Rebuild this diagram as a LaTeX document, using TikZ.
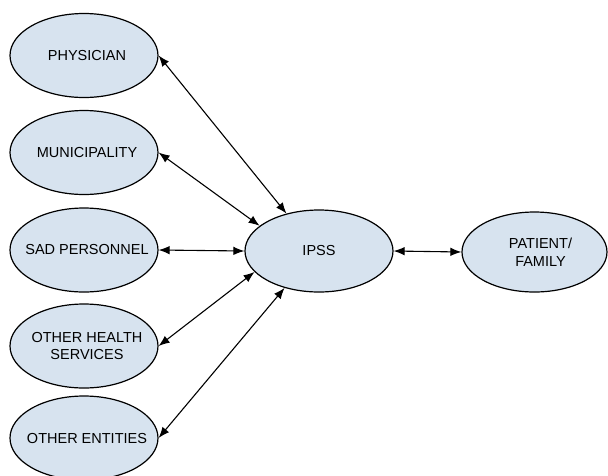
\documentclass[tikz,border=0pt]{standalone}
\usepackage{fontspec}
\setmainfont{Liberation Sans}
\usetikzlibrary{shapes.geometric,arrows.meta}
\definecolor{nodefill}{HTML}{D7E3EF}
\tikzset{
  ent/.style={ellipse, draw=black, line width=1.2pt, fill=nodefill, minimum width=148pt, minimum height=84pt, inner sep=0pt},
  txt/.style={align=center, inner sep=0pt, font=\fontsize{14.5}{17.5}\selectfont},
  ltxt/.style={txt, xshift=3pt},
  link/.style={line width=1.1pt, {Latex[length=11pt,width=8.5pt]}-{Latex[length=11pt,width=8.5pt]}}
}
\begin{document}
\begin{tikzpicture}[x=1pt,y=-1pt]
\path[use as bounding box, clip] (0,0) rectangle (608,475);
\fill[white] (0,0) rectangle (608,475);
\node[ent, label={[ltxt]center:PHYSICIAN}] (phys) at (84,55.5) {};
\node[ent, label={[ltxt]center:MUNICIPALITY}] (muni) at (84,152.5) {};
\node[ent, label={[ltxt]center:SAD PERSONNEL}] (sad) at (84,250) {};
\node[ent, label={[ltxt]center:OTHER HEALTH\\SERVICES}] (ohs) at (84,346) {};
\node[ent, label={[ltxt]center:OTHER ENTITIES}] (oent) at (84,438) {};
\node[ent, minimum height=82pt, label={[txt]center:IPSS}] (ipss) at (319,251) {};
\node[ent, minimum width=145pt, minimum height=80pt, label={[txt, xshift=6pt]center:PATIENT/\\FAMILY}] (pat) at (534.5,252) {};
\draw[link] (phys.east) -- (ipss.131);
\draw[link] (muni.east) -- (ipss.157);
\draw[link] (sad.east) -- (ipss.west);
\draw[link] (ohs.east) -- (ipss.198);
\draw[link] (oent.east) -- (ipss.227);
\draw[link] (ipss.east) -- (pat.west);
\end{tikzpicture}
\end{document}
